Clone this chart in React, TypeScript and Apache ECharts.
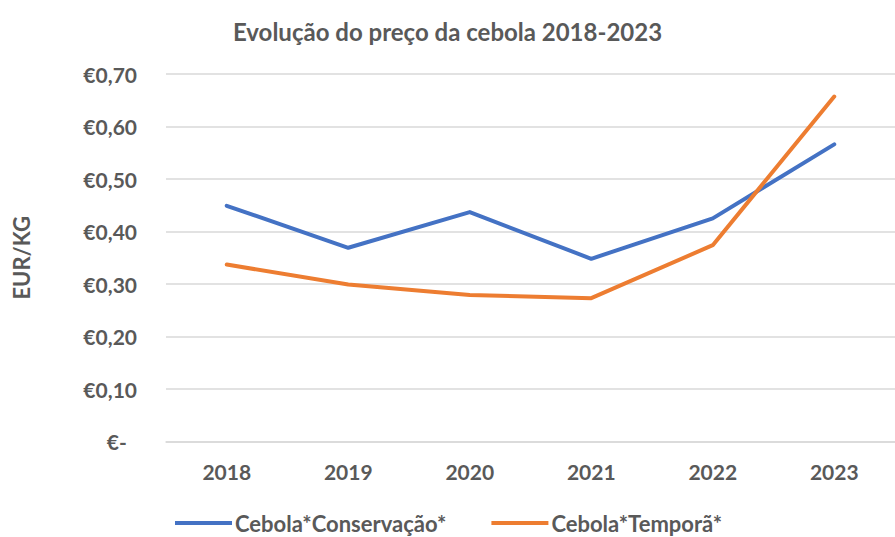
import React, { useEffect, useRef } from "react";
import * as echarts from "echarts";

const title = "Evolução do preço da cebola 2018-2023";
const years = ["2018", "2019", "2020", "2021", "2022", "2023"];
const conservacao = [0.449, 0.369, 0.437, 0.348, 0.425, 0.566];
const tempora = [0.337, 0.299, 0.279, 0.273, 0.374, 0.657];
const seriesNames = ["Cebola*Conservação*", "Cebola*Temporã*"];
const yAxisName = "EUR/KG";

const FONT = "Lato";
const TXT = "#595959";

export default function App() {
  const ref = useRef<HTMLDivElement>(null);
  useEffect(() => {
    if (!ref.current) return;
    const chart = echarts.init(ref.current, undefined, { renderer: "svg" });
    chart.setOption({
      animation: false,
      backgroundColor: "#ffffff",
      title: {
        text: title,
        left: "center",
        top: 14,
        textStyle: { fontFamily: FONT, fontWeight: "bold", fontSize: 24, color: TXT },
      },
      grid: { left: 166, top: 74, width: 736, bottom: 95.5, containLabel: false },
      legend: {
        left: 175,
        top: 512,
        padding: 0,
        icon: "rect",
        itemWidth: 57,
        itemHeight: 4,
        itemGap: 45,
        textStyle: { fontFamily: FONT, fontWeight: "bold", fontSize: 22, color: TXT, padding: [0, 0, 0, -2] },
        data: seriesNames,
      },
      xAxis: {
        type: "category",
        data: years,
        boundaryGap: true,
        axisLine: { lineStyle: { color: "#d9d9d9", width: 1.5 } },
        axisTick: { show: false },
        axisLabel: { margin: 19, fontFamily: FONT, fontWeight: "bold", fontSize: 21, color: TXT },
      },
      yAxis: {
        type: "value",
        min: 0,
        max: 0.7,
        interval: 0.1,
        name: yAxisName,
        nameLocation: "middle",
        nameGap: 134,
        nameTextStyle: { fontFamily: FONT, fontWeight: "bold", fontSize: 22, color: TXT },
        axisLine: { show: false },
        axisTick: { show: false },
        splitLine: { lineStyle: { color: "#d9d9d9", width: 1.5 } },
        axisLabel: {
          margin: 29,
          fontFamily: FONT,
          fontWeight: "bold",
          fontSize: 21,
          color: TXT,
          formatter: (v: number) =>
            v === 0 ? "€-\u00a0\u00a0" : "€" + v.toFixed(2).replace(".", ","),
        },
      },
      series: [
        {
          name: seriesNames[0],
          type: "line",
          data: conservacao,
          symbol: "none",
          color: "#4472C4",
          itemStyle: { color: "#4472C4" },
          lineStyle: { width: 4, color: "#4472C4", cap: "round", join: "round" },
        },
        {
          name: seriesNames[1],
          type: "line",
          data: tempora,
          symbol: "none",
          color: "#ED7D31",
          itemStyle: { color: "#ED7D31" },
          lineStyle: { width: 4, color: "#ED7D31", cap: "round", join: "round" },
        },
      ],
    });
    return () => chart.dispose();
  }, []);
  return <div ref={ref} style={{ width: 895, height: 537, position: "absolute", left: 0, top: 0 }} />;
}
